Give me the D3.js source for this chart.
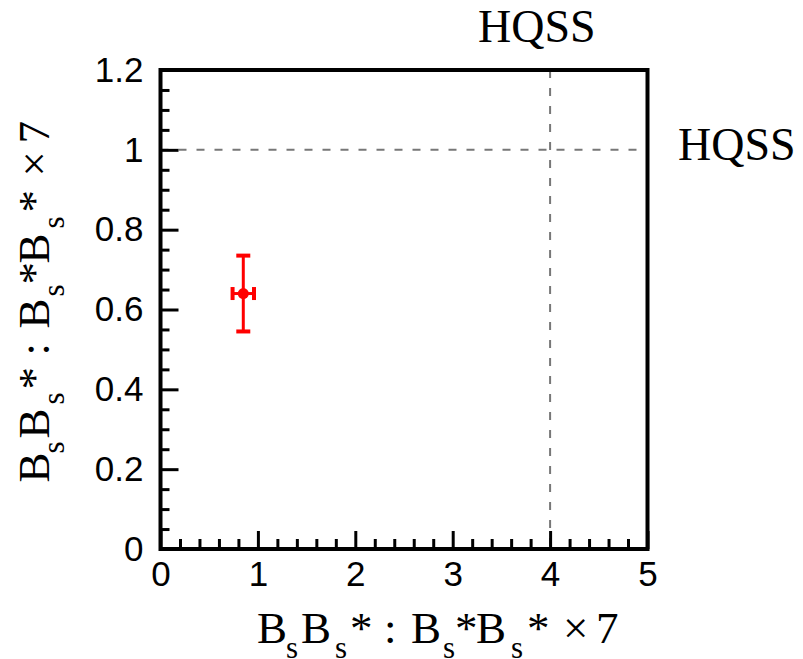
<!DOCTYPE html>
<html><head><meta charset="utf-8">
<script src="https://cdn.jsdelivr.net/npm/d3@7"></script>
<style>body{margin:0;background:#fff}svg{display:block}</style>
</head><body>
<script>
// data
const pointX = [0.85];
const pointY = [0.64];
const errX = [0.11];
const errY = [0.095];
const refX = [4];
const refY = [1];
const xTicks = [0, 1, 2, 3, 4, 5];
const yTicks = [0, 0.2, 0.4, 0.6, 0.8, 1, 1.2];
const yTickLabels = ["0", "0.2", "0.4", "0.6", "0.8", "1", "1.2"];
const refLabel = "HQSS";

const W = 803, H = 659;
const svg = d3.select("body").append("svg").attr("width", W).attr("height", H);
const x = d3.scaleLinear().domain([0, 5]).range([160.5, 647.5]);
const y = d3.scaleLinear().domain([0, 1.2]).range([549, 70]);

// reference dashed lines
svg.selectAll(".hl").data(refY).enter().append("line")
  .attr("x1", x(0)).attr("x2", x(5)).attr("y1", d => y(d)).attr("y2", d => y(d))
  .attr("stroke", "#777").attr("stroke-width", 2).attr("stroke-dasharray", "8,10");
svg.selectAll(".vl").data(refX).enter().append("line")
  .attr("y1", y(1.2)).attr("y2", y(0)).attr("x1", d => x(d)).attr("x2", d => x(d))
  .attr("stroke", "#777").attr("stroke-width", 2).attr("stroke-dasharray", "8,10");

// axes
const xMinor = d3.range(0, 5.0001, 0.2).filter(v => Math.abs(v - Math.round(v)) > 1e-6);
const yMinor = d3.range(0, 1.2001, 0.05).filter(v => Math.abs(v / 0.2 - Math.round(v / 0.2)) > 1e-6);

const gx = svg.append("g").attr("transform", `translate(0,${y(0)})`);
gx.call(d3.axisBottom(x).tickValues(xTicks).tickSize(-18).tickPadding(12).tickFormat(d3.format("d")));
const gxm = svg.append("g").attr("transform", `translate(0,${y(0)})`);
gxm.call(d3.axisBottom(x).tickValues(xMinor).tickSize(-10).tickFormat(""));

const gy = svg.append("g").attr("transform", `translate(${x(0)},0)`);
gy.call(d3.axisLeft(y).tickValues(yTicks).tickSize(-18).tickPadding(17).tickFormat((d, i) => yTickLabels[i]));
const gym = svg.append("g").attr("transform", `translate(${x(0)},0)`);
gym.call(d3.axisLeft(y).tickValues(yMinor).tickSize(-9).tickFormat(""));

svg.selectAll(".domain").remove();
svg.selectAll(".tick line").attr("stroke", "#000").attr("stroke-width", 3);
svg.selectAll(".tick text").attr("fill", "#000")
  .style("font-family", "'Liberation Sans', Arial, sans-serif").style("font-size", "35px");

// frame
svg.append("rect").attr("x", x(0)).attr("y", y(1.2))
  .attr("width", x(5) - x(0)).attr("height", y(0) - y(1.2))
  .attr("fill", "none").attr("stroke", "#000").attr("stroke-width", 4);

// data point with error bars
const red = "#ff0000";
const pts = pointX.map((d, i) => ({x: d, y: pointY[i], ex: errX[i], ey: errY[i]}));
const g = svg.append("g");
pts.forEach(p => {
  g.append("line").attr("x1", x(p.x)).attr("x2", x(p.x)).attr("y1", y(p.y - p.ey)).attr("y2", y(p.y + p.ey))
    .attr("stroke", red).attr("stroke-width", 3);
  g.append("line").attr("x1", x(p.x - p.ex)).attr("x2", x(p.x + p.ex)).attr("y1", y(p.y)).attr("y2", y(p.y))
    .attr("stroke", red).attr("stroke-width", 3);
  [p.y - p.ey, p.y + p.ey].forEach(v => {
    g.append("line").attr("x1", x(p.x) - 7).attr("x2", x(p.x) + 7).attr("y1", y(v)).attr("y2", y(v))
      .attr("stroke", red).attr("stroke-width", 4);
  });
  [p.x - p.ex, p.x + p.ex].forEach(v => {
    g.append("line").attr("x1", x(v)).attr("x2", x(v)).attr("y1", y(p.y) - 6.5).attr("y2", y(p.y) + 6.5)
      .attr("stroke", red).attr("stroke-width", 4);
  });
  g.append("circle").attr("cx", x(p.x)).attr("cy", y(p.y)).attr("r", 5.5).attr("fill", red);
});

// HQSS labels
const serif = "'Liberation Serif', 'Times New Roman', serif";
svg.append("text").attr("x", 478).attr("y", 42).text(refLabel)
  .style("font-family", serif).style("font-size", "46px").attr("fill", "#000");
svg.append("text").attr("x", 678).attr("y", 160).text(refLabel)
  .style("font-family", serif).style("font-size", "46px").attr("fill", "#000");

// axis titles (piece, subscript?, advance offset along baseline)
const titleParts = [
  ["B", 0, 0], ["s", 1, 29], ["B", 0, 44], ["s", 1, 78], ["*", 0, 93], [":", 0, 127],
  ["B", 0, 154], ["s", 1, 186], ["*", 0, 198], ["B", 0, 219], ["s", 1, 254], ["*", 0, 270],
  ["\u00d7", 0, 306], ["7", 0, 339]
];
function title(sel) {
  titleParts.forEach(pt => {
    const ts = sel.append("tspan").text(pt[0]).attr("x", pt[2]).attr("y", pt[1] ? 14.5 : 0);
    if (pt[1]) ts.style("font-size", "31px");
  });
}
const xt = svg.append("text").attr("transform", "translate(257,643)")
  .style("font-family", serif).style("font-size", "45px").attr("fill", "#000");
title(xt);
const yt = svg.append("text").attr("transform", "translate(49,482.5) rotate(-90)")
  .style("font-family", serif).style("font-size", "45px").attr("fill", "#000");
title(yt);
</script>
</body></html>
